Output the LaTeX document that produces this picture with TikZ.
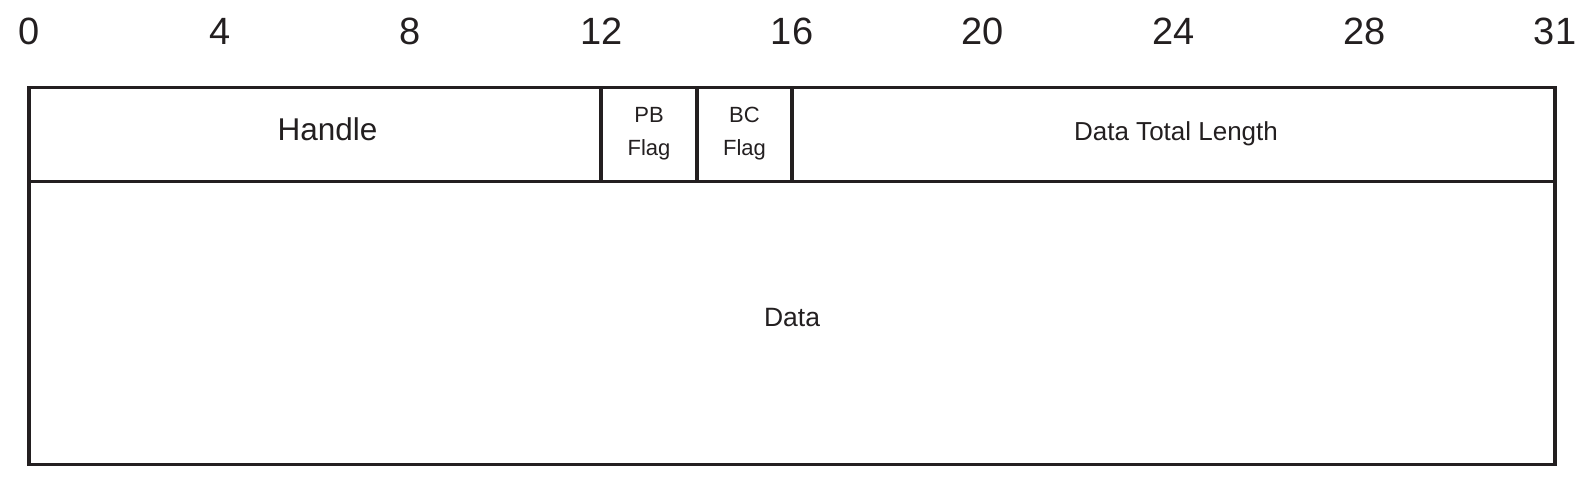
\documentclass[tikz,border=0pt]{standalone}
\usepackage{fontspec}
\setmainfont{Liberation Sans}
\definecolor{ink}{HTML}{231F20}
\begin{document}
\begin{tikzpicture}[x=1pt,y=-1pt,
  frame/.style={draw=ink,line width=3.3pt,line join=miter},
  bitnum/.style={anchor=base,text=ink,font=\fontsize{38}{40}\selectfont,inner sep=0pt},
  bigfield/.style={anchor=base,text=ink,font=\fontsize{31.5}{34}\selectfont,inner sep=0pt},
  flagfield/.style={anchor=base,text=ink,align=center,font=\fontsize{22}{33}\selectfont,inner sep=0pt},
  midfield/.style={anchor=base,text=ink,font=\fontsize{26}{28}\selectfont,inner sep=0pt}]
\useasboundingbox (0,0) rectangle (1589,478);
% bit numbers
\foreach \b in {0,4,8,12,16,20,24,28}{
  \node[bitnum] (n\b) at ({29+\b*47.69},45) {\b};
}
\node[bitnum] (n31) at (1555,45) {31};
% frame
\draw[frame] (29,87.5) rectangle (1555,464.5);
\draw[frame] (29,181.5) -- (1555,181.5);
\draw[frame] (601,87.5) -- (601,181.5);
\draw[frame] (697,87.5) -- (697,181.5);
\draw[frame] (792,87.5) -- (792,181.5);
% labels
\node[bigfield] (handle) at (327.5,141) {Handle};
\node[flagfield] (pb) at (649,156) {PB\\Flag};
\node[flagfield] (bc) at (744.5,156) {BC\\Flag};
\node[midfield] (dtl) at (1176,141) {Data Total Length};
\node[midfield,font=\fontsize{26.5}{28}\selectfont] (data) at (792,326) {Data};
\end{tikzpicture}
\end{document}
